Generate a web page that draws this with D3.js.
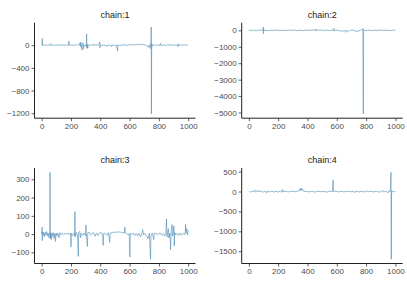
<!DOCTYPE html>
<html><head><meta charset="utf-8">
<script src="https://cdn.jsdelivr.net/npm/d3@7"></script>
<style>body{margin:0;background:#fff}svg{display:block}</style>
</head><body><svg id="c" width="407" height="282"></svg>
<script>
const chainNames = ["chain:1","chain:2","chain:3","chain:4"];
const xTicks = [0,200,400,600,800,1000];
const yTicks1 = [0,-400,-800,-1200];
const yTicks2 = [0,-1000,-2000,-3000,-4000,-5000];
const yTicks3 = [-100,0,100,200,300];
const yTicks4 = [500,0,-500,-1000,-1500];

const iter1 = [1,4,6,10,20,30,40,50,57,61,63,75,90,105,120,140,160,175,182,186,188,200,215,230,245,258,262,264,268,270,275,278,282,285,288,295,300,305,307,309,312,315,318,330,345,355,358,370,385,392,396,398,400,410,425,440,450,455,465,477,480,495,510,518,520,535,550,565,580,595,610,625,640,655,670,685,700,715,728,735,742,745,748,749,751,755,760,775,790,805,812,815,830,845,860,875,890,905,920,928,932,935,945,960,975,990,1000];
const val1 = [5,118,-5,8,0,6,-4,3,15,25,-5,4,-3,5,0,4,-2,5,0,75,-3,3,-2,6,2,10,45,-30,53,-10,-88,20,40,-70,5,-10,8,-20,200,-58,10,-45,5,-3,4,20,-5,10,0,20,58,-45,10,-5,3,-8,-18,5,0,-25,4,-5,3,-100,5,-5,3,8,-3,10,2,12,5,15,6,18,5,3,-40,10,-60,20,320,-1211,30,-20,5,0,4,-5,35,-5,4,-3,6,2,8,-4,6,-25,25,-15,10,0,5,0,3];

const iter2 = [1,10,20,30,40,50,60,70,80,90,96,98,99,101,103,110,130,150,170,190,210,230,250,270,290,310,330,350,370,390,410,430,450,455,458,462,470,490,510,530,550,570,578,581,583,600,620,640,650,662,665,680,690,710,730,745,760,775,778,781,783,800,820,840,860,880,900,920,940,960,980,1000];
const val2 = [10,-20,15,-30,10,-40,20,0,30,-20,40,200,-205,60,-30,10,-20,15,-10,20,-15,10,-20,15,-10,20,-15,10,-20,15,-10,20,30,70,-40,40,0,30,-20,10,-15,20,0,120,-30,10,-20,-60,10,-120,10,-90,0,15,-50,-60,10,30,120,-5080,20,-10,15,-20,10,-15,20,-10,15,-20,10,0];

const iter3 = [1,3,4,6,10,15,20,25,30,35,40,45,50,55,57,59,62,66,70,75,80,85,90,95,98,105,110,118,125,130,140,150,160,170,180,190,198,200,202,210,220,225,227,229,235,245,250,252,260,265,270,280,290,300,302,305,312,315,325,335,345,355,365,375,385,395,405,415,420,423,435,445,455,465,468,480,495,505,515,525,535,545,555,565,568,571,580,590,597,602,605,615,625,635,645,655,665,675,685,690,695,705,715,727,735,743,746,755,765,770,780,790,800,810,820,830,840,848,852,855,860,865,868,875,880,884,890,893,898,903,905,908,915,925,935,945,955,965,975,980,982,985,990,995,1000];
const val3 = [0,38,-36,10,-8,12,-15,8,-5,14,-10,6,-20,5,338,-25,10,-30,5,-12,8,-25,3,-40,5,-10,6,-20,8,-5,4,-3,5,0,6,-5,3,-71,5,-8,4,-10,123,-15,10,-5,-122,8,15,-20,5,-8,6,-10,50,-5,-68,8,10,-5,4,8,-12,6,-8,5,10,-4,-62,5,3,-6,8,-45,5,8,12,6,15,8,14,6,10,5,38,10,4,-5,2,-125,5,-3,6,-8,4,-10,5,-15,6,25,-5,4,-8,-25,5,-137,-10,6,-30,3,5,-5,4,6,-6,3,-10,5,83,-15,10,30,-20,5,-85,10,52,-10,5,45,-65,8,-5,4,-8,6,-6,5,-4,10,52,5,30,-5,20];

const iter4 = [1,10,20,30,41,44,55,64,67,80,95,110,122,125,140,155,170,185,200,215,225,230,233,250,270,290,310,330,345,350,352,355,358,362,365,370,375,390,410,430,450,470,490,510,530,550,570,575,577,590,610,630,650,670,690,710,725,730,750,770,790,805,810,830,850,870,890,905,915,920,935,950,955,965,970,972,974,985,1000];
const val4 = [0,-15,10,-10,40,-10,5,30,-5,10,-15,5,-35,10,-10,10,-15,5,-10,8,-20,50,-5,5,-10,10,-5,10,20,70,30,85,40,75,20,40,0,10,-10,5,-15,10,-5,5,-15,10,0,295,0,10,-10,5,-10,10,-5,5,-25,10,-10,5,-10,20,-5,5,-10,5,-15,5,25,-10,5,-30,10,0,482,-1699,20,-10,5];

const chains = [
  {name: chainNames[0], it: iter1, v: val1, ticks: yTicks1},
  {name: chainNames[1], it: iter2, v: val2, ticks: yTicks2},
  {name: chainNames[2], it: iter3, v: val3, ticks: yTicks3},
  {name: chainNames[3], it: iter4, v: val4, ticks: yTicks4}
];

const colX = [34.5, 241.7], rowY = [22.7, 168], pw = 161, ph = 95.5;
const svg = d3.select("#c");
const fmt = d => (d < 0 ? "\u2212" + Math.abs(d) : String(d));

chains.forEach((c, k) => {
  const x0 = colX[k % 2], y0 = rowY[Math.floor(k / 2)];
  const g = svg.append("g").attr("transform", `translate(${x0},${y0})`);
  const xs = d3.scaleLinear().domain([1 - 0.05 * 999, 1000 + 0.05 * 999]).range([0, pw]);
  const [mn, mx] = d3.extent(c.v);
  const pad = 0.05 * (mx - mn);
  const ys = d3.scaleLinear().domain([mn - pad, mx + pad]).range([ph, 0]);
  const pts = c.it.map((d, i) => [d, c.v[i]]);
  g.append("path").datum(pts)
    .attr("fill", "none").attr("stroke", "#4a8ab3").attr("stroke-width", 0.6)
    .attr("d", d3.line().x(d => xs(d[0])).y(d => ys(d[1])));
  const xa = g.append("g").attr("transform", `translate(0,${ph})`)
    .call(d3.axisBottom(xs).tickValues(xTicks).tickSize(3).tickPadding(2).tickFormat(fmt));
  const ya = g.append("g")
    .call(d3.axisLeft(ys).tickValues(c.ticks).tickSize(3).tickPadding(2).tickFormat(fmt));
  [xa, ya].forEach(a => {
    a.select(".domain").attr("stroke", "#222").attr("stroke-width", 1);
    a.selectAll(".tick line").attr("stroke", "#333").attr("stroke-width", 0.8);
    a.selectAll(".tick text").attr("fill", "#4d4d4d").attr("font-size", 8)
      .attr("font-family", "Liberation Sans, Arial, sans-serif");
  });
  xa.select(".domain").attr("d", `M0,0H${pw}`);
  ya.select(".domain").attr("d", `M0,0V${ph}`);
  g.append("text").attr("x", pw / 2).attr("y", -5).attr("text-anchor", "middle")
    .attr("font-size", 9).attr("fill", "#1a1a1a")
    .attr("font-family", "Liberation Sans, Arial, sans-serif").text(c.name);
});
</script></body></html>
